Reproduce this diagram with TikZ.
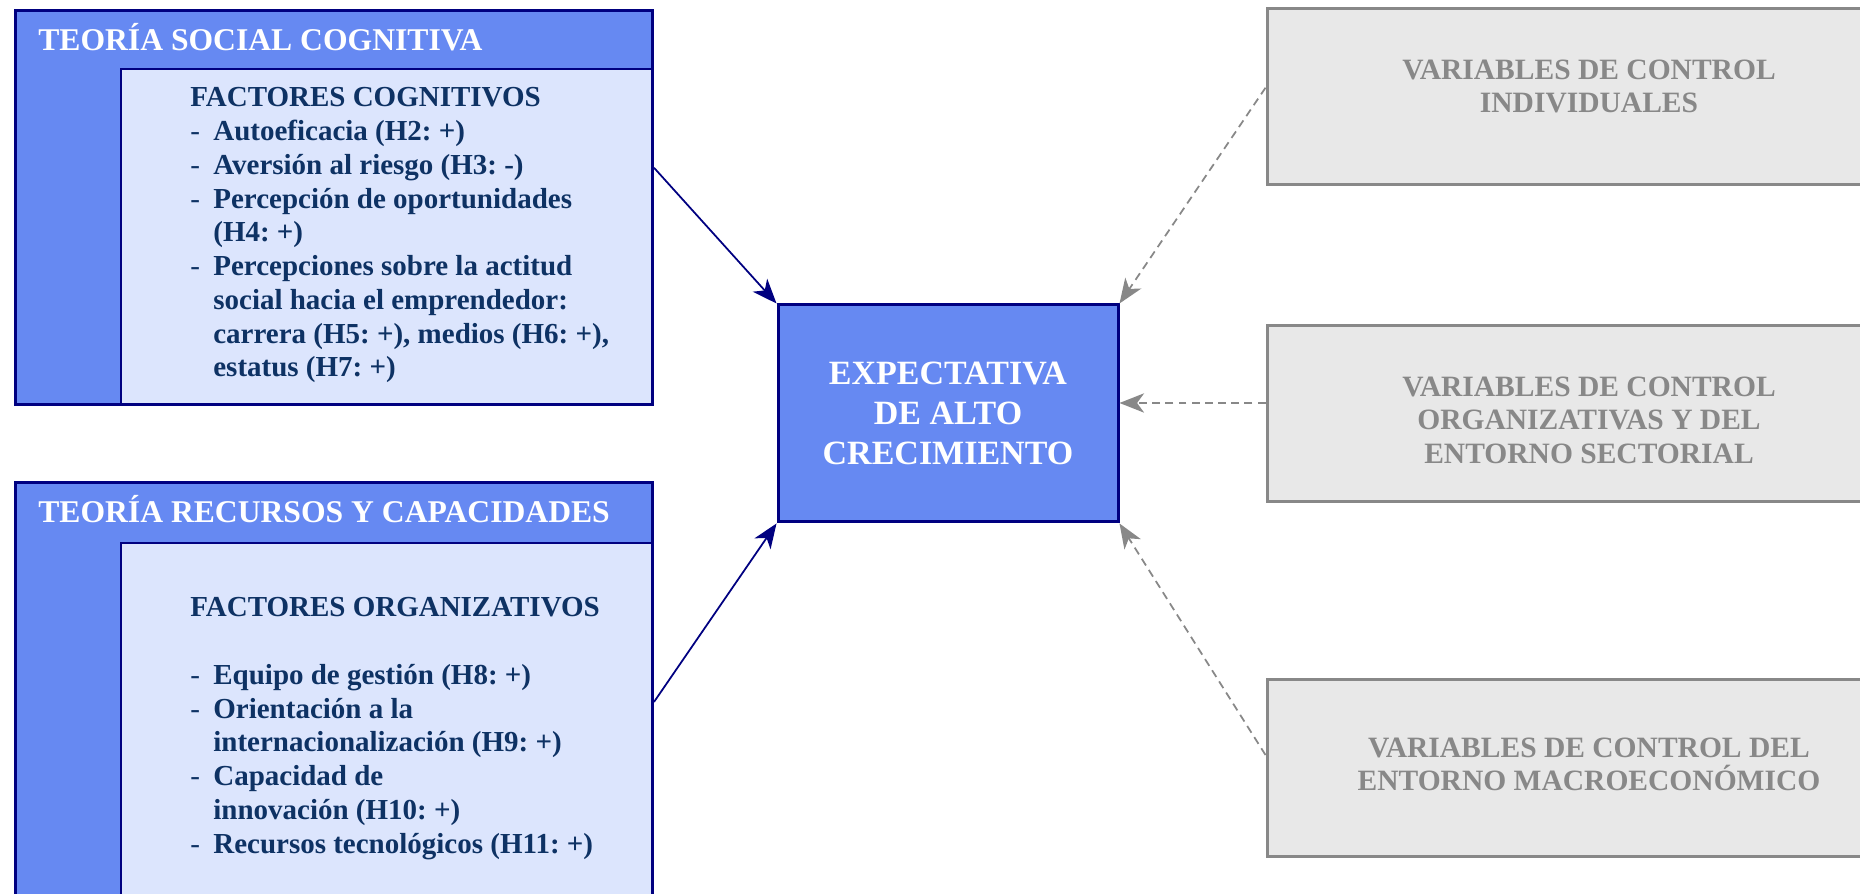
\documentclass[tikz,border=0pt]{standalone}
\usepackage{fontspec}
\setmainfont{Liberation Serif}
\usetikzlibrary{arrows.meta,positioning}
\definecolor{boxblue}{RGB}{102,137,242}
\definecolor{boxnavy}{RGB}{0,0,128}
\definecolor{lightblue}{RGB}{220,229,253}
\definecolor{textnavy}{RGB}{14,50,100}
\definecolor{ctrlgray}{RGB}{232,232,232}
\definecolor{linegray}{RGB}{136,136,136}
\frenchspacing

\begin{document}
\begin{tikzpicture}[
      theorybox/.style={draw=boxnavy, line width=1.7pt, fill=boxblue, anchor=north west, minimum width=12.74cm, inner sep=0pt},
      factorbox/.style={draw=boxnavy, line width=0.9pt, fill=lightblue, anchor=north west, minimum width=10.62cm, inner sep=0pt},
      headtext/.style={anchor=base west, inner sep=0pt, text=white, font=\fontsize{18}{21}\selectfont\bfseries},
      itemtext/.style={anchor=base west, inner sep=0pt, text=textnavy, font=\fontsize{16.5}{19.2}\selectfont\bfseries},
      outcome/.style={draw=boxnavy, line width=1.7pt, fill=boxblue, minimum width=6.8cm, minimum height=4.34cm, align=center, text=white, font=\fontsize{19.35}{22.8}\selectfont\bfseries},
      ctrlbox/.style={draw=linegray, line width=1.7pt, fill=ctrlgray, minimum width=12.88cm, minimum height=3.53cm},
      ctrltext/.style={align=center, inner sep=0pt, text=linegray, font=\fontsize{16.8}{19}\selectfont\bfseries},
      arrowstyle/.style={-{Stealth[length=14pt,width=11pt,inset=4pt]}, draw=boxnavy, line width=1pt},
      dashstyle/.style={-{Stealth[length=14pt,width=11pt,inset=4pt]}, draw=linegray, line width=1pt, dash pattern=on 4.5pt off 3pt}
    ]
    \clip (0,0) rectangle (37.2,17.88);

    % left: theories
    \node[theorybox, minimum height=7.87cm] (tsc) at (0.28,17.69) {};
    \node[factorbox, minimum height=6.7cm] (cog) at (2.4,16.52) {};
    \node[headtext] (tsctitle) at (0.76,16.86) {TEORÍA SOCIAL COGNITIVA};
    \node[itemtext] (coglist) at (3.8,15.74) {\begin{tabular}[t]{@{}l@{\hspace{7.6pt}}l@{}}
      \multicolumn{2}{@{}l@{}}{FACTORES COGNITIVOS}\\
      {\mdseries -} & Autoeficacia (H2: +)\\
      {\mdseries -} & Aversión al riesgo (H3: -)\\
      {\mdseries -} & Percepción de oportunidades\\
        & (H4: +)\\
      {\mdseries -} & Percepciones sobre la actitud\\
        & social hacia el emprendedor:\\
        & carrera (H5: +), medios (H6: +),\\
        & estatus (H7: +)
    \end{tabular}};

    \node[theorybox, minimum height=8.78cm] (trc) at (0.28,8.26) {};
    \node[factorbox, minimum height=7.56cm] (org) at (2.4,7.04) {};
    \node[headtext] (trctitle) at (0.76,7.42) {TEORÍA RECURSOS Y CAPACIDADES};
    \node[itemtext] (orglist) at (3.8,5.54) {\begin{tabular}[t]{@{}l@{\hspace{7.6pt}}l@{}}
      \multicolumn{2}{@{}l@{}}{FACTORES ORGANIZATIVOS}\\
        & \\
      {\mdseries -} & Equipo de gestión (H8: +)\\
      {\mdseries -} & Orientación a la\\
        & internacionalización (H9: +)\\
      {\mdseries -} & Capacidad de\\
        & innovación (H10: +)\\
      {\mdseries -} & Recursos tecnológicos (H11: +)
    \end{tabular}};

    % centre
    \node[outcome] (eac) at (18.96,9.61) {EXPECTATIVA\\DE ALTO\\CRECIMIENTO};

    % right: control variables
    \node[ctrlbox] (vind) at (31.78,15.945) {};
    \node[ctrlbox] (vorg) at (31.78,9.61) {};
    \node[ctrlbox] (vmac) at (31.78,2.52) {};
    \node[ctrltext] (vindtext) at ([yshift=0.2cm]vind.center) {VARIABLES DE CONTROL\\INDIVIDUALES};
    \node[ctrltext] (vorgtext) at ([yshift=-0.13cm]vorg.center) {VARIABLES DE CONTROL\\ORGANIZATIVAS Y DEL\\ENTORNO SECTORIAL};
    \node[ctrltext] (vmactext) at ([yshift=0.07cm]vmac.center) {VARIABLES DE CONTROL DEL\\ENTORNO MACROECONÓMICO};

    \draw[arrowstyle] ([yshift=0.8cm]tsc.east) -- (eac.north west);
    \draw[arrowstyle] (trc.east) -- (eac.south west);
    \draw[dashstyle] ([yshift=0.18cm]vind.west) -- (eac.north east);
    \draw[dashstyle] ([yshift=0.21cm]vorg.west) -- ([yshift=0.21cm]eac.east);
    \draw[dashstyle] ([yshift=0.26cm]vmac.west) -- (eac.south east);
  \end{tikzpicture}
\end{document}
